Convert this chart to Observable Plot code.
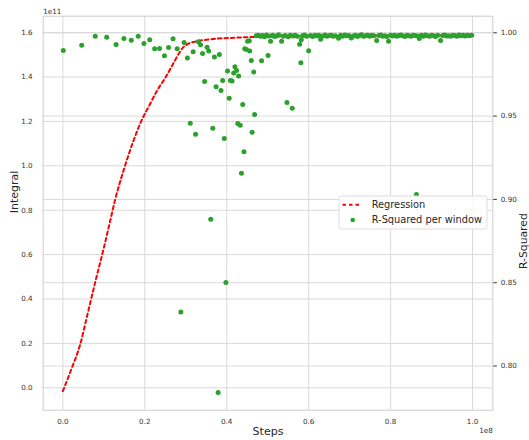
<!DOCTYPE html>
<html>
<head>
<meta charset="utf-8">
<script src="https://cdn.jsdelivr.net/npm/d3@7"></script>
<script src="https://cdn.jsdelivr.net/npm/@observablehq/plot@0.6"></script>
<style>
  html, body { margin: 0; padding: 0; background: #fff; }
  #chart { width: 529px; height: 440px; }
</style>
</head>
<body>
<div id="chart"></div>
<script>
// ---- Data (steps in units of 1e8, integral in units of 1e11) ----
const regSteps = [0, 0.02, 0.043, 0.06, 0.079, 0.1, 0.114, 0.128, 0.15, 0.171, 0.191, 0.211, 0.23, 0.25, 0.269, 0.283, 0.292, 0.303, 0.315, 0.328, 0.35, 0.377, 0.42, 0.458, 0.5, 0.6, 0.7, 0.8, 0.9, 1.0];
const regIntegral = [-0.015, 0.08, 0.2, 0.33, 0.476, 0.63, 0.74, 0.85, 0.99, 1.106, 1.2, 1.272, 1.339, 1.396, 1.459, 1.505, 1.53, 1.547, 1.556, 1.562, 1.568, 1.573, 1.577, 1.58, 1.582, 1.584, 1.585, 1.586, 1.587, 1.588];

const windowSteps = [
  0.001, 0.046, 0.079, 0.107, 0.130, 0.149, 0.167, 0.184, 0.198, 0.212, 0.224, 0.236, 0.248, 0.258, 0.269, 0.279,
  0.288, 0.296, 0.304, 0.311, 0.318, 0.324, 0.331, 0.336, 0.341, 0.346, 0.352, 0.356, 0.361, 0.366, 0.370, 0.374,
  0.379, 0.382, 0.386, 0.390, 0.394, 0.398, 0.402, 0.406, 0.409, 0.413, 0.417, 0.420, 0.424, 0.427, 0.429, 0.433,
  0.436, 0.439, 0.442, 0.444, 0.448, 0.451, 0.455, 0.456, 0.460, 0.462, 0.466, 0.468, 0.485, 0.501, 0.547, 0.560,
  0.578, 0.581, 0.582, 0.600, 0.863,
  0.472, 0.477, 0.482, 0.487, 0.492, 0.497, 0.503, 0.507, 0.512, 0.517, 0.522, 0.527, 0.534, 0.538, 0.543, 0.550,
  0.555, 0.562, 0.567, 0.572, 0.585, 0.590, 0.595, 0.605, 0.610, 0.615, 0.620, 0.625, 0.629, 0.635, 0.640, 0.645,
  0.650, 0.655, 0.660, 0.665, 0.673, 0.678, 0.683, 0.688, 0.693, 0.698, 0.704, 0.709, 0.714, 0.719, 0.724, 0.729,
  0.734, 0.739, 0.744, 0.749, 0.754, 0.759, 0.766, 0.771, 0.776, 0.781, 0.786, 0.791, 0.795, 0.800, 0.805, 0.810,
  0.815, 0.820, 0.825, 0.830, 0.835, 0.840, 0.845, 0.850, 0.855, 0.860, 0.866, 0.870, 0.875, 0.880, 0.885, 0.890,
  0.895, 0.900, 0.905, 0.910, 0.915, 0.922, 0.927, 0.932, 0.937, 0.942, 0.947, 0.952, 0.957, 0.962, 0.967, 0.972,
  0.977, 0.982, 0.987, 0.992, 0.998
];
const rSquared = [
  0.9894, 0.9926, 0.9980, 0.9974, 0.9930, 0.9966, 0.9956, 0.9980, 0.9936, 0.9958, 0.9904, 0.9906, 0.9862, 0.9912, 0.9964, 0.9904,
  0.8325, 0.9942, 0.9848, 0.9457, 0.9886, 0.9391, 0.9946, 0.9928, 0.9876, 0.9708, 0.9914, 0.9890, 0.8881, 0.9427, 0.9854, 0.9676,
  0.7841, 0.9870, 0.9654, 0.9714, 0.9366, 0.8501, 0.9770, 0.9607, 0.9714, 0.9710, 0.9758, 0.9796, 0.9774, 0.9456, 0.9740, 0.9445,
  0.9157, 0.9570, 0.9286, 0.9904, 0.9900, 0.9950, 0.9952, 0.9890, 0.9834, 0.9403, 0.9764, 0.9510, 0.9832, 0.9864, 0.9582, 0.9547,
  0.9932, 0.9820, 0.9958, 0.9892, 0.9030,
  0.9982, 0.9986, 0.9979, 0.9984, 0.9977, 0.9987, 0.9981, 0.9950, 0.9985, 0.9978, 0.9983, 0.9988, 0.9950, 0.9980, 0.9984, 0.9977,
  0.9986, 0.9981, 0.9985, 0.9979, 0.9983, 0.9987, 0.9980, 0.9984, 0.9978, 0.9986, 0.9982, 0.9985, 0.9962, 0.9981, 0.9987, 0.9979,
  0.9984, 0.9986, 0.9980, 0.9983, 0.9968, 0.9985, 0.9979, 0.9987, 0.9982, 0.9984, 0.9969, 0.9981, 0.9986, 0.9978, 0.9984, 0.9988,
  0.9980, 0.9983, 0.9986, 0.9979, 0.9985, 0.9982, 0.9954, 0.9984, 0.9987, 0.9980, 0.9983, 0.9978, 0.9950, 0.9985, 0.9981, 0.9986,
  0.9979, 0.9984, 0.9987, 0.9982, 0.9978, 0.9985, 0.9983, 0.9980, 0.9986, 0.9984, 0.9981, 0.9966, 0.9985, 0.9979, 0.9987, 0.9983,
  0.9980, 0.9986, 0.9982, 0.9978, 0.9985, 0.9954, 0.9984, 0.9987, 0.9981, 0.9983, 0.9979, 0.9986, 0.9984, 0.9980, 0.9987, 0.9982,
  0.9985, 0.9981, 0.9986, 0.9983, 0.9985
];

const xTicks = [0, 0.2, 0.4, 0.6, 0.8, 1.0];
const yTicks = [0, 0.2, 0.4, 0.6, 0.8, 1.0, 1.2, 1.4, 1.6];
const rTicks = [0.80, 0.85, 0.90, 0.95, 1.00];

// ---- Scales ----
const xDomain = [-0.048, 1.0495];
const yDomain = [-0.101, 1.674];
const rDomain = [0.7735, 1.00996];
const rToY = d3.scaleLinear().domain(rDomain).range(yDomain);

const regression = regSteps.map((s, i) => ({step: s, integral: regIntegral[i]}));
const windows = windowSteps.map((s, i) => ({step: s, r2: rSquared[i]}));

const FONT = "DejaVu Sans, sans-serif";
const gridColor = "#d9d9d9";
const tickColor = "#333";
const DASH = "3.5,3";

const chart = Plot.plot({
  width: 529,
  height: 440,
  marginLeft: 42.7,
  marginRight: 36.7,
  marginTop: 15.7,
  marginBottom: 30.3,
  style: {fontFamily: FONT, fontSize: "7.2px", color: tickColor, background: "#fff"},
  x: {domain: xDomain},
  y: {domain: yDomain},
  marks: [
    Plot.gridX(xTicks, {stroke: gridColor, strokeOpacity: 1, strokeWidth: 1}),
    Plot.gridY(yTicks, {stroke: gridColor, strokeOpacity: 1, strokeWidth: 1}),
    Plot.gridY(rTicks.map(rToY), {stroke: gridColor, strokeOpacity: 1, strokeWidth: 1}),
    Plot.frame({stroke: "#cccccc", strokeWidth: 1}),
    Plot.axisX(xTicks, {tickSize: 0, tickPadding: 9, tickFormat: d3.format(".1f"), label: null, fill: tickColor}),
    Plot.axisY(yTicks, {anchor: "left", tickSize: 0, tickPadding: 10.5, tickFormat: d3.format(".1f"), label: null, fill: tickColor}),
    Plot.axisY(rTicks.map(rToY), {anchor: "right", tickSize: 3.5, tickPadding: 4.5, stroke: tickColor, fill: tickColor,
      tickFormat: d => d3.format(".2f")(rToY.invert(d)), label: null}),
    Plot.line(regression, {x: "step", y: "integral", stroke: "red", strokeWidth: 2, strokeDasharray: DASH, curve: "monotone-x"}),
    Plot.dot(windows, {x: "step", y: d => rToY(d.r2), r: 2.5, fill: "#2ca02c", stroke: "none"}),
    Plot.text(["Steps"], {frameAnchor: "bottom", dy: 25, fontSize: 11, fill: "#262626"}),
    Plot.text(["Integral"], {frameAnchor: "left", dx: -29, rotate: -90, fontSize: 11, fill: "#262626"}),
    Plot.text(["R-Squared"], {frameAnchor: "right", dx: 30.5, rotate: -90, fontSize: 10.8, fill: "#262626"}),
    Plot.text(["1e11"], {frameAnchor: "top-left", textAnchor: "start", lineAnchor: "bottom", dy: -2.5, fontSize: 7.2, fill: tickColor}),
    Plot.text(["1e8"], {frameAnchor: "bottom-right", textAnchor: "end", lineAnchor: "bottom", dy: 22.8, fontSize: 7.2, fill: tickColor})
  ]
});

document.getElementById("chart").appendChild(chart);

// ---- Legend ----
const svg = d3.select(chart);
const lg = svg.append("g").attr("font-family", FONT).attr("font-size", "9.8px").attr("text-anchor", "start");
lg.append("rect").attr("x", 339).attr("y", 196).attr("width", 148).attr("height", 33)
  .attr("rx", 2.5).attr("fill", "#fff").attr("fill-opacity", 0.85).attr("stroke", "#dddddd");
lg.append("line").attr("x1", 342.5).attr("x2", 361).attr("y1", 204.7).attr("y2", 204.7)
  .attr("stroke", "red").attr("stroke-width", 2).attr("stroke-dasharray", DASH);
lg.append("text").attr("x", 371.7).attr("y", 204.7).attr("dy", "0.35em").attr("text-anchor", "start").attr("fill", "#262626").text("Regression");
lg.append("circle").attr("cx", 352.7).attr("cy", 220).attr("r", 2.3).attr("fill", "#2ca02c");
lg.append("text").attr("x", 371.7).attr("y", 220).attr("dy", "0.35em").attr("text-anchor", "start").attr("fill", "#262626").text("R-Squared per window");
</script>
</body>
</html>
